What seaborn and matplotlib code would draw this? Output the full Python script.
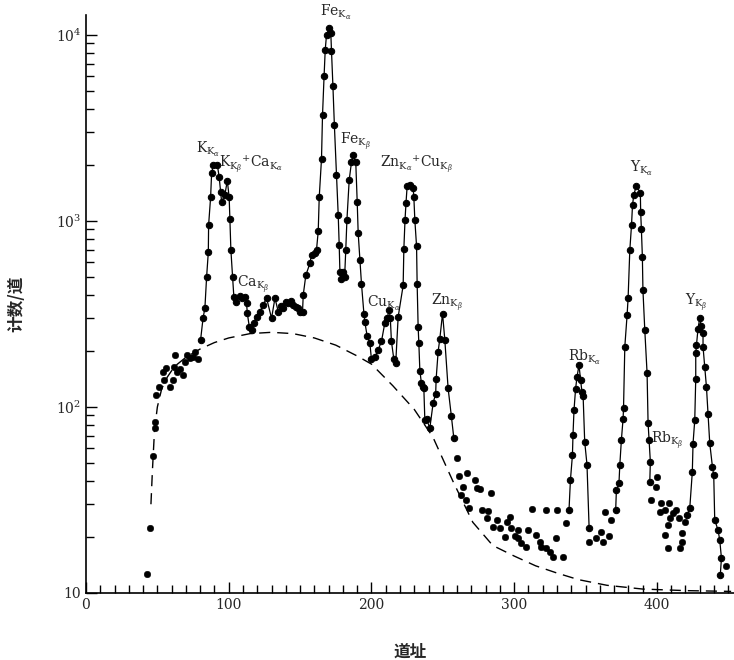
import matplotlib
matplotlib.use('Agg')
import matplotlib.pyplot as plt
import seaborn as sns
from matplotlib.ticker import FixedLocator, MultipleLocator, LogLocator, NullFormatter

# connected runs of points (channel, counts per channel)
seg_a_ch = [80.3, 82.0, 83.3, 84.5, 85.7, 85.9, 87.3, 88.0, 89.2, 92.0, 93.3, 94.3, 95.0, 97.3,
            99.0, 100.3, 100.8, 101.5, 102.7, 103.6, 105.0, 107.8, 109.5, 111.3, 112.5, 113.0,
            114.4, 116.0, 117.6, 119.5, 121.8, 124.2, 126.5, 130.0, 132.4, 134.7, 136.5, 138.0,
            140.0, 141.7, 143.5, 145.0, 147.0, 148.7, 150.0, 151.7, 152.2, 154.0, 156.9, 158.0,
            160.4, 161.5, 162.7, 163.4, 165.0, 165.7, 166.8, 167.6, 168.5, 170.4, 171.5, 172.0,
            173.0, 174.0, 175.5, 176.7, 177.4, 177.9, 179.0, 180.3, 181.2, 182.0, 182.8, 184.4,
            186.0, 187.2, 189.0, 190.0, 190.7, 191.9, 193.0, 194.7, 195.4, 197.0, 198.9, 200.0,
            202.4, 204.7, 207.0, 209.4, 211.0, 212.4, 213.2, 214.0, 215.7, 217.0, 218.7, 222.2,
            222.7, 223.5, 224.2, 225.0, 227.0, 229.2, 229.7, 230.4, 231.6, 232.0, 232.7, 233.2,
            233.9, 235.0, 235.8, 236.7, 237.4, 238.6, 240.9, 243.2, 245.0, 245.3, 246.7, 247.9,
            249.8, 251.4, 253.7, 256.0, 257.7]
seg_a_cnt = [230, 300, 340, 500, 680, 950, 1340, 1800, 2000, 2010, 1720, 1440, 1270, 1380,
             1650, 1340, 1030, 700, 500, 390, 365, 393, 385, 390, 360, 320,
             270, 260, 284, 305, 325, 355, 385, 300, 385, 325, 350, 340,
             365, 360, 370, 355, 345, 340, 325, 325, 400, 510, 593, 660,
             670, 700, 880, 1340, 2160, 3700, 6000, 8300, 10000, 10900, 10300, 8200,
             5300, 3300, 1770, 1080, 740, 530, 490, 530, 500, 700, 1010, 1660,
             2070, 2250, 2070, 1270, 860, 620, 460, 318, 285, 240, 220, 180,
             186, 203, 225, 284, 300, 333, 300, 225, 180, 172, 305, 450,
             710, 1010, 1250, 1540, 1560, 1500, 1340, 1010, 730, 460, 270, 220,
             157, 134, 128, 126, 85, 86, 77, 105, 118, 141, 198, 233,
             318, 229, 126, 89, 68]

rb_ch = [338.4, 339.4, 340.8, 341.2, 341.9, 343.0, 344.0, 345.4, 346.5, 347.5, 348.3, 349.4, 351.0, 352.5]
rb_cnt = [27.9, 40.5, 55, 71, 96, 125, 145, 168, 140, 120, 114, 65, 49, 22.3]

yka_ch = [371.1, 371.6, 373.4, 374.0, 375.1, 376.3, 376.6, 377.5, 379.1, 379.8, 381.0, 382.2,
          382.9, 383.8, 385.6, 388.4, 388.6, 389.1, 389.8, 390.2, 391.5, 393.1, 393.8, 394.5,
          395.4, 395.0]
yka_cnt = [27.9, 35.7, 38.9, 48.8, 66.5, 86.7, 98.5, 211, 312, 384, 696, 951,
           1220, 1380, 1550, 1410, 1120, 910, 643, 425, 259, 152, 82, 66.5,
           50.7, 39.7]

ykb_ch = [421.1, 423.0, 424.8, 425.3, 426.5, 427.2, 427.2, 427.7, 428.8, 430.0, 431.2, 432.3,
          432.3, 433.5, 434.7, 435.8, 437.0, 438.9, 439.8, 440.5, 442.8, 444.0, 445.2, 444.4]
ykb_cnt = [26.3, 28.5, 44.8, 63.6, 85, 142, 194, 215, 264, 300, 271, 250,
           211, 164, 128, 92, 64, 47.6, 43, 24.7, 21.8, 19.3, 15.4, 12.5]

# loose points not joined by the line
dots_ch = [42.5, 44.8, 47.0, 48.0, 48.3, 49.0, 51.0, 53.7, 56.0, 54.6, 58.8, 60.7, 61.6, 62.3,
           63.5, 65.8, 67.7, 69.3, 70.5, 72.8, 75.0, 76.3, 78.6,
           259.6, 261.5, 266.6, 264.2, 263.0, 266.1, 268.4, 272.4, 274.0, 275.9, 277.1, 281.8,
           284.1, 280.6, 285.2, 288.0, 289.9, 293.4, 295.0, 296.9, 298.1, 300.4, 302.7, 302.7,
           305.1, 308.6, 309.7, 312.8, 315.6, 317.9, 319.1, 322.1, 322.6, 324.9, 327.2, 329.1,
           330.0, 334.2, 336.1,
           352.5, 357.6, 361.1, 362.2, 366.4, 363.4, 368.1,
           396.1, 399.2, 400.0, 403.1, 402.0, 405.5, 408.5, 409.0, 411.3, 413.7, 415.5, 407.8,
           405.5, 407.8, 416.0, 417.8, 417.8, 419.5, 448.7]
dots_cnt = [12.7, 22.4, 54.5, 77, 83, 116, 128, 155, 162, 140, 128, 140, 165, 190,
            155, 160, 148, 175, 190, 183, 185, 198, 180,
            53, 42.3, 44.3, 37.3, 33.7, 31.6, 28.5, 40.5, 36.5, 36.1, 27.9, 27.7,
            34.4, 25.2, 22.7, 24.7, 22.3, 20.1, 24.2, 25.7, 22.3, 20.2, 19.7, 21.8,
            18.5, 17.7, 21.8, 28.2, 20.5, 18.9, 17.7, 27.9, 17.4, 16.7, 15.7, 19.7,
            27.9, 15.7, 23.8,
            18.9, 19.7, 21.4, 18.9, 20.2, 27.4, 24.7,
            31.6, 37.3, 42.2, 30.3, 27.4, 27.9, 30.3, 25.2, 26.9, 27.9, 25.2, 23.3,
            20.5, 17.4, 17.4, 18.9, 20.9, 24.2, 13.9]

# background (dashed)
bg_ch = [45.5, 46.5, 48, 50, 53, 57, 62, 70, 80, 90, 100, 115, 130, 145, 160, 175, 190, 200,
         215, 230, 243, 257, 271, 285, 300, 315, 330, 345, 365, 390, 420, 452]
bg_cnt = [30, 45, 75, 100, 125, 145, 165, 185, 205, 222, 235, 248, 252, 248, 235, 215, 188, 170,
          130, 97, 69, 40, 24, 18, 15.8, 14, 12.8, 11.8, 11, 10.5, 10.3, 10.2]

peak_labels = [r'K$_{\mathrm{K}_\alpha}$', r'K$_{\mathrm{K}_\beta}$$^{+}$Ca$_{\mathrm{K}_\alpha}$',
               r'Ca$_{\mathrm{K}_\beta}$', r'Fe$_{\mathrm{K}_\alpha}$', r'Fe$_{\mathrm{K}_\beta}$',
               r'Zn$_{\mathrm{K}_\alpha}$$^{+}$Cu$_{\mathrm{K}_\beta}$', r'Cu$_{\mathrm{K}_\alpha}$',
               r'Zn$_{\mathrm{K}_\beta}$', r'Rb$_{\mathrm{K}_\alpha}$', r'Y$_{\mathrm{K}_\alpha}$',
               r'Rb$_{\mathrm{K}_\beta}$', r'Y$_{\mathrm{K}_\beta}$']
label_pos = [(77, 2150), (93.5, 1750), (106, 400), (164, 11800), (178, 2350), (206, 1750),
             (197, 320), (242, 320), (338, 165), (381, 1700), (396, 58), (420, 320)]

sns.set_style('ticks')
plt.rcParams['font.family'] = ['DejaVu Serif', 'Noto Sans CJK SC']
plt.rcParams['mathtext.fontset'] = 'dejavuserif'

fig = plt.figure(figsize=(7.34, 6.6), dpi=100)
ax = fig.add_axes([86 / 734, 1 - 593 / 660, 648 / 734, 578 / 660])

line_kw = dict(color='black', linewidth=0.9, marker='o', markersize=4.6,
               markeredgecolor='black', estimator=None, sort=False, ax=ax)
for xs, ys in [(seg_a_ch, seg_a_cnt), (rb_ch, rb_cnt), (yka_ch, yka_cnt), (ykb_ch, ykb_cnt)]:
    sns.lineplot(x=xs, y=ys, **line_kw)

sns.scatterplot(x=dots_ch, y=dots_cnt, color='black', s=22, edgecolor='black', ax=ax)
ax.plot(bg_ch, bg_cnt, color='black', linewidth=1.0, linestyle=(0, (8, 5)))

for txt, (px, py) in zip(peak_labels, label_pos):
    ax.text(px, py, txt, fontsize=10, ha='left', va='bottom')

ax.set_yscale('log')
ax.set_xlim(0, 454)
ax.set_ylim(10, 12800)

ax.xaxis.set_major_locator(FixedLocator([0, 100, 200, 300, 400]))
ax.xaxis.set_minor_locator(MultipleLocator(10))
ax.yaxis.set_major_locator(FixedLocator([10, 100, 1000, 10000]))
ax.yaxis.set_minor_locator(LogLocator(base=10, subs=range(2, 10)))
ax.yaxis.set_minor_formatter(NullFormatter())
ax.set_yticklabels(['10', r'$10^{2}$', r'$10^{3}$', r'$10^{4}$'])
ax.tick_params(which='both', direction='in', color='black', width=1)
ax.tick_params(which='major', length=8, labelsize=10)
ax.tick_params(which='minor', length=6)

sns.despine(ax=ax)
for sp in ['left', 'bottom']:
    ax.spines[sp].set_linewidth(1.2)
    ax.spines[sp].set_color('black')

ax.set_xlabel('道址', fontsize=12, fontweight='bold', family=['Noto Sans CJK SC'], labelpad=22)
ax.set_ylabel('计数/道', fontsize=12, fontweight='bold', family=['Noto Sans CJK SC'], labelpad=22)

fig.savefig('out.png', dpi=100)
